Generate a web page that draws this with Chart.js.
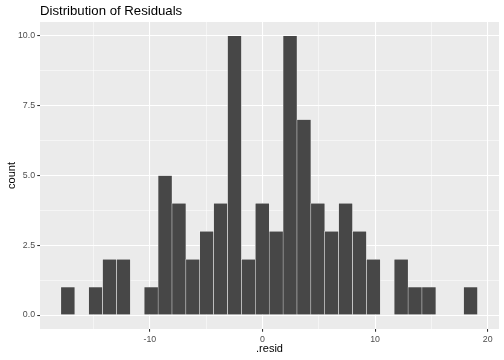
<!DOCTYPE html>
<html>
<head>
<meta charset="utf-8">
<script src="https://cdn.jsdelivr.net/npm/chart.js@4.4.1/dist/chart.umd.min.js"></script>
<style>
  html, body { margin: 0; padding: 0; background: #ffffff; }
  #wrap { width: 504px; height: 360px; }
</style>
</head>
<body>
<div id="wrap"><canvas id="c" width="504" height="360"></canvas></div>
<script>
// Histogram bin centers (.resid) and counts
const binCenters = [-17.277, -16.044, -14.811, -13.578, -12.345, -11.113, -9.880, -8.647, -7.414, -6.181,
                    -4.948, -3.715, -2.482, -1.249, -0.016, 1.217, 2.449, 3.682, 4.915, 6.148,
                    7.381, 8.614, 9.847, 11.080, 12.313, 13.546, 14.778, 16.011, 17.244, 18.477];
const counts = [1, 0, 1, 2, 2, 0, 1, 5, 4, 2,
                3, 4, 10, 2, 4, 3, 10, 7, 4, 3,
                4, 3, 2, 0, 2, 1, 1, 0, 0, 1];
const xMajorTicks = [-10, 0, 10, 20];
const xMinorTicks = [-15, -5, 5, 15];
const yMajorTicks = [0, 2.5, 5, 7.5, 10];
const yMinorTicks = [1.25, 3.75, 6.25, 8.75];
const titleText = "Distribution of Residuals";
const xTitle = ".resid";
const yTitle = "count";

const FONT = '"Liberation Sans", Arial, Helvetica, sans-serif';
const points = binCenters.map((x, i) => ({ x: x, y: counts[i] }));

const xTicksAll = xMajorTicks.concat(xMinorTicks).sort((a, b) => a - b);
const yTicksAll = yMajorTicks.concat(yMinorTicks).sort((a, b) => a - b);
const isMajorX = c => !!(c && c.tick && xMajorTicks.includes(c.tick.value));
const isMajorY = c => !!(c && c.tick && yMajorTicks.includes(c.tick.value));

const decor = {
  id: 'decor',
  beforeDraw(chart) {
    const { ctx, chartArea: a } = chart;
    ctx.save();
    ctx.fillStyle = '#EBEBEB';
    ctx.fillRect(a.left, a.top, a.right - a.left, a.bottom - a.top);
    ctx.restore();
  },
  afterDraw(chart) {
    const { ctx, chartArea: a } = chart;
    ctx.save();
    ctx.fillStyle = '#000000';
    ctx.font = '13.2px ' + FONT;
    ctx.textAlign = 'left';
    ctx.textBaseline = 'alphabetic';
    ctx.fillText(titleText, a.left, 15);

    ctx.font = '11px ' + FONT;
    ctx.textAlign = 'center';
    ctx.fillText(xTitle, (a.left + a.right) / 2, 352);

    ctx.translate(15, (a.top + a.bottom) / 2);
    ctx.rotate(-Math.PI / 2);
    ctx.textAlign = 'center';
    ctx.textBaseline = 'alphabetic';
    ctx.fillText(yTitle, 0, 0);
    ctx.restore();
  }
};

new Chart(document.getElementById('c'), {
  type: 'bar',
  data: {
    datasets: [{
      data: points,
      backgroundColor: '#474747',
      borderColor: '#FFFFFF',
      borderWidth: 0.5,
      borderSkipped: 'start',
      barPercentage: 1.0,
      categoryPercentage: 1.0
    }]
  },
  options: {
    responsive: false,
    animation: false,
    devicePixelRatio: 1,
    layout: { padding: { top: 22, right: 5, bottom: 0, left: 0 } },
    plugins: { legend: { display: false }, tooltip: { enabled: false }, title: { display: false } },
    scales: {
      x: {
        type: 'linear',
        min: -19.75,
        max: 21.0,
        offset: false,
        border: { display: false },
        grid: {
          offset: false,
          color: '#FFFFFF',
          lineWidth: c => isMajorX(c) ? 1.07 : 0.53,
          drawTicks: true,
          tickLength: 2.75,
          tickColor: c => isMajorX(c) ? '#333333' : 'rgba(0,0,0,0)',
          tickWidth: 1.07
        },
        ticks: {
          autoSkip: false,
          maxRotation: 0,
          padding: 2.2,
          color: '#4D4D4D',
          font: { family: FONT, size: 8.8 },
          callback: v => xMajorTicks.includes(v) ? String(v) : ''
        },
        afterBuildTicks: s => { s.ticks = xTicksAll.map(v => ({ value: v })); },
        afterFit: s => { s.height = 31; }
      },
      y: {
        type: 'linear',
        min: -0.5,
        max: 10.5,
        border: { display: false },
        grid: {
          offset: false,
          color: '#FFFFFF',
          lineWidth: c => isMajorY(c) ? 1.07 : 0.53,
          drawTicks: true,
          tickLength: 2.75,
          tickColor: c => isMajorY(c) ? '#333333' : 'rgba(0,0,0,0)',
          tickWidth: 1.07
        },
        ticks: {
          autoSkip: false,
          padding: 2.2,
          color: '#4D4D4D',
          font: { family: FONT, size: 8.8 },
          callback: v => yMajorTicks.includes(v) ? v.toFixed(1) : ''
        },
        afterBuildTicks: s => { s.ticks = yTicksAll.map(v => ({ value: v })); },
        afterFit: s => { s.width = 40; }
      }
    }
  },
  plugins: [decor]
});
</script>
</body>
</html>
